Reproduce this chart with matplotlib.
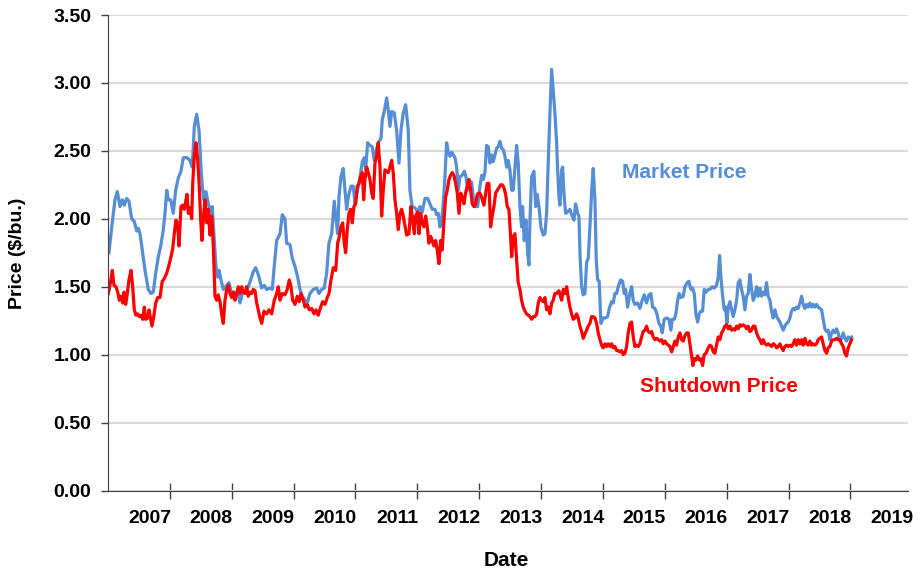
import numpy as np
import matplotlib.pyplot as plt

plt.rcParams['font.family'] = ['Liberation Sans', 'DejaVu Sans']

# weekly prices, $/bu (x in decimal years)
market_years = [
    2006.016, 2006.060, 2006.113, 2006.150, 2006.194, 2006.231, 2006.263, 2006.302, 2006.339, 2006.383,
    2006.425, 2006.464, 2006.490, 2006.517, 2006.554, 2006.598, 2006.651, 2006.695, 2006.732, 2006.771,
    2006.813, 2006.856, 2006.894, 2006.921, 2006.949, 2006.974, 2007.013, 2007.055, 2007.094, 2007.136,
    2007.180, 2007.217, 2007.272, 2007.325, 2007.362, 2007.395, 2007.433, 2007.471, 2007.503, 2007.524,
    2007.551, 2007.584, 2007.621, 2007.664, 2007.685, 2007.718, 2007.745, 2007.773, 2007.794, 2007.826,
    2007.863, 2007.918, 2007.955, 2007.999, 2008.052, 2008.106, 2008.133, 2008.170, 2008.214, 2008.267,
    2008.306, 2008.348, 2008.387, 2008.429, 2008.484, 2008.526, 2008.565, 2008.618, 2008.655, 2008.687,
    2008.726, 2008.780, 2008.817, 2008.860, 2008.888, 2008.941, 2008.978, 2009.022, 2009.066, 2009.103,
    2009.140, 2009.184, 2009.227, 2009.264, 2009.318, 2009.373, 2009.410, 2009.453, 2009.495, 2009.534,
    2009.571, 2009.615, 2009.641, 2009.657, 2009.689, 2009.712, 2009.733, 2009.765, 2009.802, 2009.830,
    2009.857, 2009.883, 2009.927, 2009.964, 2009.992, 2010.019, 2010.056, 2010.088, 2010.110, 2010.142,
    2010.164, 2010.197, 2010.234, 2010.271, 2010.303, 2010.342, 2010.379, 2010.412, 2010.433, 2010.465,
    2010.504, 2010.530, 2010.557, 2010.585, 2010.627, 2010.665, 2010.703, 2010.735, 2010.772, 2010.811,
    2010.853, 2010.880, 2010.917, 2010.961, 2011.005, 2011.042, 2011.079, 2011.123, 2011.166, 2011.204,
    2011.241, 2011.284, 2011.312, 2011.338, 2011.365, 2011.393, 2011.418, 2011.446, 2011.473, 2011.499,
    2011.527, 2011.554, 2011.580, 2011.608, 2011.635, 2011.661, 2011.688, 2011.725, 2011.758, 2011.785,
    2011.813, 2011.850, 2011.877, 2011.903, 2011.931, 2011.974, 2012.012, 2012.039, 2012.065, 2012.092,
    2012.119, 2012.146, 2012.173, 2012.201, 2012.226, 2012.254, 2012.281, 2012.307, 2012.335, 2012.362,
    2012.388, 2012.416, 2012.443, 2012.469, 2012.496, 2012.524, 2012.550, 2012.577, 2012.604, 2012.630,
    2012.658, 2012.685, 2012.701, 2012.727, 2012.755, 2012.782, 2012.803, 2012.820, 2012.847, 2012.884,
    2012.912, 2012.937, 2012.965, 2012.997, 2013.034, 2013.062, 2013.089, 2013.115, 2013.143, 2013.170,
    2013.223, 2013.251, 2013.267, 2013.288, 2013.304, 2013.332, 2013.348, 2013.369, 2013.396, 2013.429,
    2013.466, 2013.493, 2013.531, 2013.558, 2013.590, 2013.611, 2013.632, 2013.655, 2013.681, 2013.708,
    2013.736, 2013.762, 2013.789, 2013.816, 2013.842, 2013.870, 2013.891, 2013.914, 2013.939, 2013.967,
    2014.004, 2014.043, 2014.075, 2014.101, 2014.140, 2014.166, 2014.193, 2014.221, 2014.246, 2014.285,
    2014.318, 2014.343, 2014.366, 2014.398, 2014.436, 2014.463, 2014.489, 2014.516, 2014.560, 2014.597,
    2014.634, 2014.667, 2014.705, 2014.743, 2014.775, 2014.802, 2014.840, 2014.872, 2014.904, 2014.936,
    2014.957, 2014.990, 2015.029, 2015.066, 2015.098, 2015.119, 2015.152, 2015.179, 2015.206, 2015.232,
    2015.260, 2015.297, 2015.324, 2015.362, 2015.389, 2015.421, 2015.449, 2015.475, 2015.502, 2015.530,
    2015.555, 2015.583, 2015.610, 2015.636, 2015.664, 2015.701, 2015.728, 2015.765, 2015.798, 2015.836,
    2015.862, 2015.885, 2015.906, 2015.934, 2015.960, 2015.982, 2016.003, 2016.024, 2016.052, 2016.079,
    2016.105, 2016.132, 2016.160, 2016.186, 2016.213, 2016.240, 2016.266, 2016.294, 2016.321, 2016.347,
    2016.375, 2016.402, 2016.428, 2016.455, 2016.483, 2016.508, 2016.536, 2016.564, 2016.590, 2016.617,
    2016.644, 2016.670, 2016.698, 2016.725, 2016.751, 2016.779, 2016.806, 2016.832, 2016.860, 2016.887,
    2016.913, 2016.940, 2016.968, 2016.994, 2017.021, 2017.048, 2017.074, 2017.102, 2017.129, 2017.155,
    2017.183, 2017.210, 2017.236, 2017.264, 2017.291, 2017.317, 2017.344, 2017.372, 2017.397, 2017.425,
    2017.452, 2017.478, 2017.506, 2017.533, 2017.559, 2017.587, 2017.614, 2017.640, 2017.667, 2017.695,
    2017.720, 2017.748, 2017.775, 2017.801, 2017.829, 2017.856, 2017.882, 2017.910, 2017.937, 2017.963,
    2017.991, 2018.018,
]
market_price = [
    1.75, 1.94, 2.14, 2.20, 2.09, 2.14, 2.10, 2.15, 2.13, 2.00,
    1.98, 1.91, 1.93, 1.89, 1.77, 1.62, 1.48, 1.45, 1.46, 1.60,
    1.72, 1.81, 1.92, 2.04, 2.21, 2.14, 2.14, 2.04, 2.21, 2.30,
    2.35, 2.45, 2.45, 2.43, 2.38, 2.68, 2.77, 2.65, 2.38, 2.24,
    2.14, 2.20, 2.11, 2.04, 2.09, 1.84, 1.65, 1.57, 1.62, 1.55,
    1.48, 1.51, 1.53, 1.45, 1.46, 1.44, 1.38, 1.45, 1.46, 1.50,
    1.55, 1.61, 1.64, 1.59, 1.49, 1.51, 1.48, 1.49, 1.48, 1.65,
    1.84, 1.89, 2.03, 2.00, 1.82, 1.81, 1.71, 1.65, 1.57, 1.48,
    1.43, 1.40, 1.39, 1.45, 1.48, 1.49, 1.45, 1.48, 1.49, 1.60,
    1.82, 1.89, 2.04, 2.13, 1.98, 1.89, 2.16, 2.31, 2.37, 2.21,
    2.07, 2.16, 2.24, 2.24, 2.11, 2.18, 2.26, 2.35, 2.42, 2.45,
    2.36, 2.56, 2.54, 2.53, 2.43, 2.52, 2.57, 2.59, 2.73, 2.79,
    2.89, 2.80, 2.68, 2.79, 2.78, 2.65, 2.41, 2.65, 2.78, 2.84,
    2.65, 2.21, 2.09, 2.08, 2.05, 2.09, 2.05, 2.15, 2.15, 2.11,
    2.07, 2.07, 2.03, 2.04, 1.94, 1.99, 2.11, 2.31, 2.56, 2.49,
    2.46, 2.49, 2.47, 2.45, 2.38, 2.21, 2.31, 2.32, 2.35, 2.31,
    2.21, 2.26, 2.27, 2.16, 2.09, 2.09, 2.24, 2.32, 2.29, 2.34,
    2.54, 2.53, 2.41, 2.47, 2.42, 2.47, 2.52, 2.53, 2.57, 2.52,
    2.51, 2.46, 2.38, 2.43, 2.36, 2.21, 2.21, 2.38, 2.54, 2.41,
    2.09, 1.94, 2.09, 1.84, 1.99, 1.75, 1.66, 1.99, 2.31, 2.35,
    2.09, 2.18, 2.09, 1.94, 1.88, 1.89, 2.04, 2.41, 2.78, 3.10,
    2.78, 2.56, 2.36, 2.16, 2.10, 2.36, 2.38, 2.19, 2.04, 2.05,
    2.07, 2.03, 1.99, 2.11, 2.04, 2.02, 1.70, 1.50, 1.44, 1.45,
    1.68, 1.71, 1.94, 2.19, 2.37, 2.14, 1.70, 1.55, 1.54, 1.23,
    1.27, 1.27, 1.28, 1.34, 1.39, 1.38, 1.45, 1.45, 1.50, 1.55,
    1.54, 1.45, 1.48, 1.35, 1.45, 1.50, 1.40, 1.37, 1.38, 1.34,
    1.40, 1.44, 1.38, 1.44, 1.45, 1.35, 1.34, 1.30, 1.23, 1.21,
    1.16, 1.26, 1.27, 1.26, 1.18, 1.26, 1.26, 1.30, 1.40, 1.45,
    1.42, 1.43, 1.50, 1.53, 1.54, 1.48, 1.49, 1.45, 1.30, 1.24,
    1.30, 1.32, 1.32, 1.48, 1.46, 1.48, 1.48, 1.50, 1.49, 1.51,
    1.57, 1.73, 1.57, 1.43, 1.33, 1.35, 1.23, 1.35, 1.39, 1.33,
    1.28, 1.33, 1.40, 1.53, 1.55, 1.48, 1.43, 1.33, 1.43, 1.45,
    1.59, 1.48, 1.40, 1.43, 1.50, 1.43, 1.49, 1.43, 1.46, 1.44,
    1.53, 1.43, 1.40, 1.32, 1.27, 1.33, 1.28, 1.26, 1.24, 1.21,
    1.18, 1.21, 1.23, 1.24, 1.27, 1.32, 1.34, 1.33, 1.35, 1.34,
    1.38, 1.43, 1.37, 1.34, 1.37, 1.35, 1.38, 1.35, 1.37, 1.35,
    1.37, 1.35, 1.34, 1.33, 1.26, 1.19, 1.17, 1.18, 1.11, 1.16,
    1.18, 1.16, 1.19, 1.16, 1.10, 1.12, 1.16, 1.12, 1.10, 1.13,
    1.12, 1.13,
]

shutdown_years = [
    2006.005, 2006.044, 2006.069, 2006.097, 2006.129, 2006.157, 2006.183, 2006.210, 2006.238, 2006.259,
    2006.286, 2006.312, 2006.339, 2006.372, 2006.399, 2006.425, 2006.452, 2006.480, 2006.506, 2006.533,
    2006.561, 2006.587, 2006.609, 2006.642, 2006.663, 2006.690, 2006.711, 2006.739, 2006.771, 2006.803,
    2006.840, 2006.877, 2006.910, 2006.949, 2006.986, 2007.018, 2007.046, 2007.071, 2007.099, 2007.126,
    2007.147, 2007.180, 2007.207, 2007.233, 2007.256, 2007.277, 2007.298, 2007.325, 2007.353, 2007.369,
    2007.395, 2007.422, 2007.450, 2007.475, 2007.498, 2007.519, 2007.540, 2007.568, 2007.595, 2007.621,
    2007.648, 2007.676, 2007.702, 2007.729, 2007.757, 2007.782, 2007.810, 2007.837, 2007.863, 2007.891,
    2007.918, 2007.944, 2007.972, 2007.999, 2008.025, 2008.052, 2008.080, 2008.106, 2008.133, 2008.161,
    2008.186, 2008.214, 2008.241, 2008.267, 2008.295, 2008.322, 2008.348, 2008.376, 2008.403, 2008.419,
    2008.456, 2008.484, 2008.521, 2008.565, 2008.602, 2008.645, 2008.687, 2008.726, 2008.752, 2008.780,
    2008.817, 2008.860, 2008.897, 2008.930, 2008.957, 2008.985, 2009.022, 2009.059, 2009.091, 2009.119,
    2009.156, 2009.184, 2009.221, 2009.253, 2009.292, 2009.329, 2009.361, 2009.398, 2009.437, 2009.470,
    2009.507, 2009.544, 2009.571, 2009.604, 2009.641, 2009.680, 2009.712, 2009.738, 2009.765, 2009.793,
    2009.819, 2009.841, 2009.867, 2009.895, 2009.922, 2009.948, 2009.975, 2010.003, 2010.029, 2010.056,
    2010.084, 2010.110, 2010.132, 2010.153, 2010.181, 2010.206, 2010.234, 2010.261, 2010.287, 2010.315,
    2010.342, 2010.368, 2010.396, 2010.423, 2010.449, 2010.476, 2010.504, 2010.530, 2010.557, 2010.585,
    2010.610, 2010.638, 2010.665, 2010.691, 2010.719, 2010.746, 2010.772, 2010.800, 2010.827, 2010.864,
    2010.896, 2010.917, 2010.950, 2010.972, 2011.005, 2011.026, 2011.053, 2011.079, 2011.107, 2011.134,
    2011.160, 2011.187, 2011.215, 2011.241, 2011.268, 2011.296, 2011.321, 2011.349, 2011.376, 2011.402,
    2011.430, 2011.457, 2011.483, 2011.511, 2011.538, 2011.564, 2011.591, 2011.619, 2011.645, 2011.672,
    2011.700, 2011.725, 2011.753, 2011.780, 2011.806, 2011.834, 2011.861, 2011.887, 2011.915, 2011.942,
    2011.968, 2011.995, 2012.023, 2012.049, 2012.076, 2012.104, 2012.129, 2012.157, 2012.184, 2012.210,
    2012.238, 2012.265, 2012.291, 2012.319, 2012.346, 2012.372, 2012.399, 2012.427, 2012.453, 2012.480,
    2012.507, 2012.524, 2012.550, 2012.577, 2012.604, 2012.630, 2012.658, 2012.685, 2012.711, 2012.739,
    2012.766, 2012.792, 2012.820, 2012.847, 2012.873, 2012.900, 2012.928, 2012.954, 2012.981, 2013.008,
    2013.034, 2013.062, 2013.089, 2013.115, 2013.143, 2013.170, 2013.196, 2013.223, 2013.251, 2013.288,
    2013.332, 2013.358, 2013.385, 2013.413, 2013.438, 2013.466, 2013.493, 2013.519, 2013.547, 2013.574,
    2013.600, 2013.627, 2013.655, 2013.681, 2013.708, 2013.736, 2013.762, 2013.789, 2013.816, 2013.842,
    2013.870, 2013.897, 2013.923, 2013.951, 2013.978, 2014.004, 2014.032, 2014.059, 2014.085, 2014.112,
    2014.140, 2014.166, 2014.193, 2014.221, 2014.246, 2014.274, 2014.301, 2014.327, 2014.355, 2014.382,
    2014.408, 2014.436, 2014.463, 2014.489, 2014.516, 2014.544, 2014.570, 2014.597, 2014.624, 2014.650,
    2014.678, 2014.705, 2014.731, 2014.759, 2014.786, 2014.812, 2014.840, 2014.867, 2014.893, 2014.921,
    2014.948, 2014.974, 2015.002, 2015.029, 2015.055, 2015.083, 2015.110, 2015.136, 2015.163, 2015.190,
    2015.216, 2015.244, 2015.271, 2015.297, 2015.324, 2015.352, 2015.378, 2015.405, 2015.433, 2015.454,
    2015.475, 2015.502, 2015.530, 2015.555, 2015.583, 2015.610, 2015.636, 2015.664, 2015.701, 2015.728,
    2015.756, 2015.782, 2015.809, 2015.836, 2015.862, 2015.890, 2015.917, 2015.943, 2015.970, 2015.998,
    2016.024, 2016.052, 2016.079, 2016.105, 2016.132, 2016.160, 2016.186, 2016.213, 2016.240, 2016.266,
    2016.294, 2016.321, 2016.347, 2016.375, 2016.402, 2016.428, 2016.455, 2016.483, 2016.508, 2016.536,
    2016.564, 2016.590, 2016.617, 2016.644, 2016.670, 2016.698, 2016.725, 2016.751, 2016.779, 2016.806,
    2016.832, 2016.860, 2016.887, 2016.913, 2016.940, 2016.968, 2016.994, 2017.021, 2017.048, 2017.074,
    2017.102, 2017.129, 2017.155, 2017.183, 2017.210, 2017.236, 2017.264, 2017.291, 2017.317, 2017.344,
    2017.372, 2017.397, 2017.425, 2017.452, 2017.478, 2017.506, 2017.533, 2017.559, 2017.587, 2017.614,
    2017.640, 2017.667, 2017.695, 2017.720, 2017.748, 2017.775, 2017.801, 2017.829, 2017.856, 2017.882,
    2017.910, 2017.937, 2017.963, 2017.991, 2018.018,
]
shutdown_price = [
    1.45, 1.54, 1.62, 1.51, 1.50, 1.46, 1.40, 1.43, 1.38, 1.46,
    1.37, 1.45, 1.55, 1.62, 1.50, 1.33, 1.29, 1.30, 1.28, 1.29,
    1.26, 1.35, 1.26, 1.27, 1.33, 1.26, 1.21, 1.28, 1.38, 1.42,
    1.42, 1.54, 1.56, 1.60, 1.66, 1.72, 1.78, 1.89, 1.99, 1.96,
    1.80, 2.09, 2.10, 2.07, 2.13, 2.18, 2.04, 2.08, 2.00, 2.26,
    2.46, 2.56, 2.43, 2.24, 1.99, 1.84, 2.00, 2.14, 1.97, 2.07,
    1.88, 2.02, 1.80, 1.43, 1.40, 1.44, 1.39, 1.30, 1.23, 1.40,
    1.48, 1.51, 1.45, 1.42, 1.46, 1.40, 1.45, 1.50, 1.45, 1.50,
    1.46, 1.45, 1.50, 1.43, 1.46, 1.45, 1.48, 1.47, 1.38, 1.35,
    1.27, 1.23, 1.32, 1.30, 1.33, 1.30, 1.40, 1.45, 1.50, 1.40,
    1.45, 1.44, 1.48, 1.55, 1.50, 1.40, 1.37, 1.43, 1.39, 1.45,
    1.40, 1.35, 1.37, 1.33, 1.34, 1.30, 1.33, 1.29, 1.35, 1.39,
    1.37, 1.42, 1.45, 1.55, 1.64, 1.62, 1.82, 1.87, 1.94, 1.97,
    1.82, 1.75, 1.92, 2.04, 2.07, 1.97, 2.09, 2.11, 2.24, 2.26,
    2.31, 2.34, 2.14, 2.29, 2.38, 2.34, 2.29, 2.19, 2.15, 2.41,
    2.46, 2.56, 2.38, 2.02, 2.21, 2.36, 2.35, 2.34, 2.38, 2.43,
    2.34, 2.14, 2.04, 1.92, 2.04, 2.07, 2.02, 1.95, 1.88, 1.89,
    2.09, 2.02, 1.89, 2.02, 2.05, 1.89, 2.04, 1.97, 1.94, 2.02,
    1.94, 1.82, 1.87, 1.84, 1.80, 1.84, 1.77, 1.67, 1.84, 1.77,
    1.99, 2.16, 2.21, 2.29, 2.32, 2.34, 2.32, 2.26, 2.19, 2.04,
    2.19, 2.16, 2.11, 2.19, 2.24, 2.29, 2.21, 2.11, 2.09, 2.11,
    2.18, 2.19, 2.18, 2.14, 2.10, 2.19, 2.26, 2.26, 1.94, 2.02,
    2.09, 2.19, 2.21, 2.23, 2.25, 2.25, 2.23, 2.18, 2.09, 2.07,
    1.87, 1.72, 1.87, 1.89, 1.70, 1.53, 1.48, 1.40, 1.35, 1.32,
    1.30, 1.29, 1.28, 1.26, 1.28, 1.28, 1.30, 1.38, 1.42, 1.40,
    1.39, 1.42, 1.33, 1.35, 1.30, 1.38, 1.40, 1.45, 1.45, 1.47,
    1.40, 1.48, 1.45, 1.50, 1.42, 1.35, 1.30, 1.26, 1.27, 1.30,
    1.27, 1.21, 1.17, 1.12, 1.15, 1.18, 1.21, 1.23, 1.28, 1.28,
    1.27, 1.23, 1.16, 1.11, 1.07, 1.05, 1.08, 1.06, 1.08, 1.06,
    1.08, 1.05, 1.06, 1.03, 1.03, 1.02, 1.03, 1.00, 1.01, 1.06,
    1.16, 1.23, 1.24, 1.13, 1.06, 1.07, 1.06, 1.08, 1.13, 1.17,
    1.18, 1.21, 1.17, 1.16, 1.17, 1.13, 1.11, 1.12, 1.11, 1.10,
    1.11, 1.08, 1.10, 1.08, 1.07, 1.06, 1.02, 1.06, 1.10, 1.07,
    1.13, 1.16, 1.11, 1.10, 1.14, 1.16, 1.16, 1.08, 0.99, 0.92,
    0.97, 0.96, 0.99, 0.96, 0.97, 0.92, 1.00, 1.01, 1.05, 1.07,
    1.06, 1.02, 1.01, 1.07, 1.13, 1.11, 1.16, 1.18, 1.21, 1.22,
    1.19, 1.21, 1.18, 1.19, 1.18, 1.21, 1.19, 1.22, 1.21, 1.22,
    1.21, 1.19, 1.21, 1.17, 1.18, 1.21, 1.21, 1.16, 1.13, 1.11,
    1.08, 1.11, 1.08, 1.07, 1.08, 1.07, 1.06, 1.08, 1.07, 1.05,
    1.06, 1.08, 1.05, 1.03, 1.06, 1.07, 1.06, 1.07, 1.06, 1.08,
    1.11, 1.07, 1.11, 1.08, 1.11, 1.07, 1.12, 1.08, 1.07, 1.10,
    1.07, 1.08, 1.07, 1.08, 1.11, 1.12, 1.13, 1.08, 1.03, 1.01,
    1.05, 1.06, 1.10, 1.11, 1.11, 1.12, 1.11, 1.11, 1.08, 1.06,
    1.01, 0.99, 1.05, 1.08, 1.11,
]

year_ticks = list(range(2007, 2020))
price_ticks = [0.0, 0.5, 1.0, 1.5, 2.0, 2.5, 3.0, 3.5]

blue = '#558ED5'
red = '#FF0000'

fig = plt.figure(figsize=(9.19, 5.73), dpi=100)
ax = fig.add_axes([108 / 919, 1 - 490.5 / 573, 800 / 919, 475.5 / 573])

ax.plot(market_years, market_price, color=blue, lw=2.3, solid_joinstyle='round')
ax.plot(shutdown_years, shutdown_price, color=red, lw=2.3, solid_joinstyle='round')

ax.set_xlim(2006.0, 2018.93)
ax.set_ylim(0, 3.5)

ax.set_yticks(price_ticks)
ax.set_yticklabels([f'{p:.2f}' for p in price_ticks], fontsize=14, fontweight='bold')
ax.set_xticks(year_ticks[:-1])
ax.set_xticklabels([])
ax.tick_params(axis='x', direction='inout', length=12, width=1, colors='#404040')
ax.tick_params(axis='y', direction='out', length=5, width=1, pad=7, colors='#404040', labelcolor='black')

# year labels sit just left of their tick, like the original
for yr in year_ticks:
    ax.text(yr + 0.02, -0.042, str(yr), transform=ax.get_xaxis_transform(),
            ha='right', va='top', fontsize=14, fontweight='bold')

ax.grid(axis='y', color='#d9d9d9', lw=1.5)
ax.set_axisbelow(True)
for s in ['top', 'right']:
    ax.spines[s].set_visible(False)
ax.spines['left'].set_color('#404040')
ax.spines['bottom'].set_color('#404040')

ax.text(2015.31, 2.338, 'Market Price', color=blue, fontsize=15, fontweight='bold',
        ha='center', va='center')
ax.text(2015.87, 0.762, 'Shutdown Price', color=red, fontsize=15, fontweight='bold',
        ha='center', va='center')

fig.text(18 / 919, 1 - 253 / 573, 'Price ($/bu.)', rotation=90, ha='center', va='center',
         fontsize=14, fontweight='bold')
fig.text(506 / 919, 1 - 560 / 573, 'Date', ha='center', va='center',
         fontsize=15, fontweight='bold')

fig.savefig('out.png', dpi=100)
